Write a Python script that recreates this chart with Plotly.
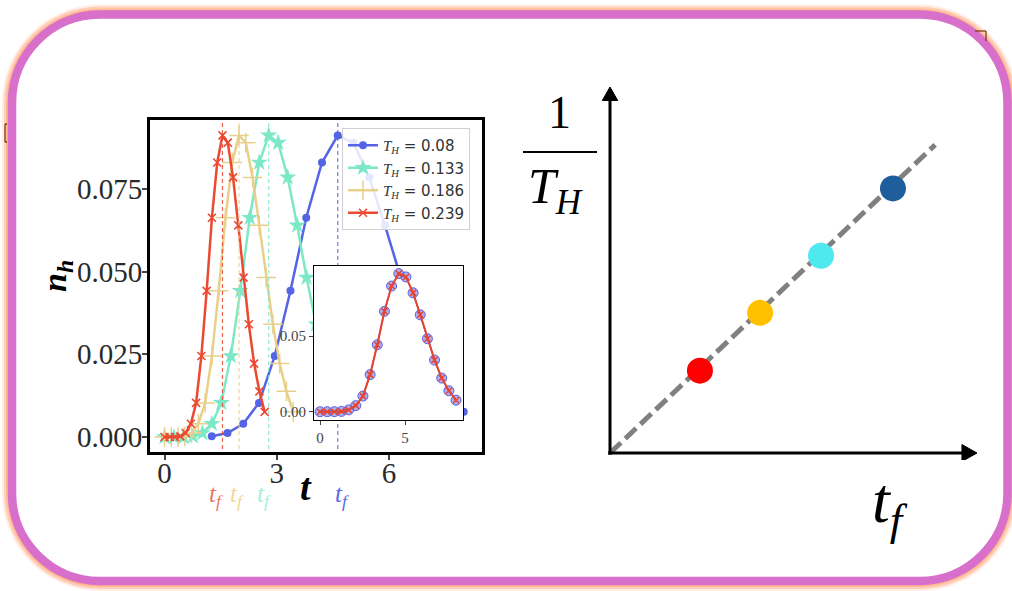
import plotly.graph_objects as go

W, H = 1012, 591

# ---------------- data : left panel ----------------
T_H = [0.08, 0.133, 0.186, 0.239]
series_colors = ["#5564e6", "#7de8c8", "#e8d08c", "#ec4832"]
tf_label_colors = ["#5868e6", "#a6eedb", "#efd796", "#ea7467"]

# n_h shape (identical for all T_H once time is rescaled)
n_h = [0.0, 0.0, 0.0, 0.0002, 0.0012, 0.0040, 0.0103, 0.0245, 0.0442, 0.0663,
       0.0830, 0.0912, 0.0890, 0.0785, 0.0640, 0.0482, 0.0341, 0.0222, 0.0138, 0.0076]
t_rescaled = [0.000, 0.421, 0.842, 1.263, 1.684, 2.105, 2.526, 2.947, 3.368, 3.789,
              4.211, 4.632, 5.053, 5.474, 5.895, 6.316, 6.737, 7.158, 7.579, 8.000]

t_blue = [1.263, 1.684, 2.105, 2.526, 2.947, 3.368, 3.789, 4.211, 4.632, 5.053,
          5.474, 5.895, 6.316, 6.737, 7.158, 7.579, 8.000]
n_blue = [0.0002, 0.0012, 0.0040, 0.0103, 0.0245, 0.0442, 0.0663, 0.0830, 0.0912,
          0.0890, 0.0785, 0.0640, 0.0482, 0.0341, 0.0222, 0.0138, 0.0076]
t_cyan = [0.000, 0.253, 0.507, 0.760, 1.013, 1.266, 1.519, 1.773, 2.026, 2.279,
          2.533, 2.786, 3.039, 3.293, 3.546, 3.799, 4.052, 4.306, 4.559, 4.812]
t_yellow = [0.000, 0.181, 0.362, 0.543, 0.724, 0.905, 1.086, 1.268, 1.449, 1.630,
            1.811, 1.992, 2.173, 2.354, 2.535, 2.717, 2.898, 3.079, 3.260, 3.441]
t_red = [0.000, 0.141, 0.282, 0.423, 0.564, 0.705, 0.845, 0.986, 1.127, 1.268,
         1.409, 1.550, 1.691, 1.832, 1.973, 2.114, 2.255, 2.396, 2.537, 2.678]
t_f = [4.632, 2.786, 1.992, 1.550]

main_xticks = [0, 3, 6]
main_yticks = [0.0, 0.025, 0.05, 0.075]
main_yticktext = ["0.000", "0.025", "0.050", "0.075"]
inset_xticks = [0, 5]
inset_yticks = [0.0, 0.05]
inset_yticktext = ["0.00", "0.05"]

# ---------------- data : right panel (schematic) ----------------
tf_schematic = [2.45, 4.09, 5.75, 7.71]
invTH_schematic = [2.25, 3.83, 5.39, 7.23]
dot_colors = ["#ff0000", "#ffc000", "#4ee9ef", "#1f5e9c"]
fit_x = [0.0, 8.86]
fit_y = [0.0, 8.42]

SERIF = "Liberation Serif"


def dx(p):
    return p / W


def dy(p):
    return 1 - p / H


fig = go.Figure()

# dummy trace so the full-frame pixel axis exists
fig.add_trace(go.Scatter(x=[None], y=[None], xaxis="x", yaxis="y",
                         showlegend=False, hoverinfo="skip"))

# ---- main curves ----
legend_names = [
    '<span style="font-family:Liberation Serif"><i>T</i><sub><i>H</i></sub></span> = %s' % v
    for v in ["0.08", "0.133", "0.186", "0.239"]
]
times = [t_blue, t_cyan, t_yellow, t_red]
values = [n_blue, n_h, n_h, n_h]
markers = [
    dict(symbol="circle", size=8, color=series_colors[0]),
    dict(symbol="star", size=13, color=series_colors[1]),
    dict(symbol="cross-thin", size=14, color=series_colors[2],
         line=dict(color=series_colors[2], width=1.5)),
    dict(symbol="x-thin", size=8, color=series_colors[3],
         line=dict(color=series_colors[3], width=1.6)),
]
for i in range(4):
    fig.add_trace(go.Scatter(
        x=times[i], y=values[i], mode="lines+markers", name=legend_names[i],
        line=dict(color=series_colors[i], width=2.5),
        marker=markers[i], xaxis="x2", yaxis="y2"))

# vertical dashed lines at t_f
for i in range(4):
    fig.add_trace(go.Scatter(
        x=[t_f[i], t_f[i]], y=[-0.01, 0.11], mode="lines", showlegend=False,
        line=dict(color=series_colors[i], width=1.2, dash="4px,3px"),
        opacity=0.85, xaxis="x2", yaxis="y2"))

# ---- inset ----
fig.add_trace(go.Scatter(
    x=t_rescaled, y=n_h, mode="lines+markers", showlegend=False,
    line=dict(color=series_colors[0], width=1.5),
    marker=dict(symbol="circle", size=10, color="rgba(110,110,225,0.55)",
                line=dict(color="#5a62e0", width=1)),
    xaxis="x4", yaxis="y4"))
fig.add_trace(go.Scatter(
    x=t_rescaled, y=n_h, mode="lines+markers", showlegend=False,
    line=dict(color="#e8432d", width=2),
    marker=dict(symbol="x-thin", size=6, color="#e8432d",
                line=dict(color="#e8432d", width=1.5)),
    xaxis="x4", yaxis="y4"))

# ---- right schematic ----
fig.add_trace(go.Scatter(
    x=fit_x, y=fit_y, mode="lines", showlegend=False,
    line=dict(color="#808080", width=5, dash="15px,6px"),
    xaxis="x3", yaxis="y3"))
fig.add_trace(go.Scatter(
    x=tf_schematic, y=invTH_schematic, mode="markers", showlegend=False,
    marker=dict(size=26, color=dot_colors, line=dict(width=0)),
    xaxis="x3", yaxis="y3"))


def rrect(L, T, R, B, r):
    k = 0.5523 * r
    return (f"M {L + r},{T} L {R - r},{T} C {R - r + k},{T} {R},{T + r - k} {R},{T + r} "
            f"L {R},{B - r} C {R},{B - r + k} {R - r + k},{B} {R - r},{B} "
            f"L {L + r},{B} C {L + r - k},{B} {L},{B - r + k} {L},{B - r} "
            f"L {L},{T + r} C {L},{T + r - k} {L + r - k},{T} {L + r},{T} Z")


shapes = []
# glow
for off, wdt, col in [(8, 4, "rgba(255,178,138,0.22)"), (6, 4, "rgba(255,178,138,0.5)"),
                      (4, 4, "rgba(255,178,138,0.8)"), (2.5, 4, "rgba(255,178,138,1)")]:
    shapes.append(dict(type="path", path=rrect(12 - off, 14.5 - off, 1007.5 + off, 581 + off, 88 + off),
                       xref="x", yref="y", line=dict(color=col, width=wdt), layer="below"))
shapes.append(dict(type="path", path=rrect(12, 14.5, 1007.5, 581, 88),
                   xref="x", yref="y", line=dict(color="#d76fcb", width=8.5), layer="below"))
# small brown artefacts
for (x0, y0, x1, y1) in [(975, 31, 986, 31), (986, 31, 986, 41),
                         (7, 124, 5, 124), (5, 124, 5, 142), (5, 142, 7, 142)]:
    shapes.append(dict(type="line", x0=x0, y0=y0, x1=x1, y1=y1, xref="x", yref="y",
                       line=dict(color="#7b3b1c", width=1.3), layer="below"))
# fraction bar
shapes.append(dict(type="line", x0=523, y0=152, x1=597, y1=152, xref="x", yref="y",
                   line=dict(color="black", width=2)))
# right axes arrows
shapes += [
    dict(type="line", x0=0, y0=-0.05, x1=0, y1=9.7, xref="x3", yref="y3",
         line=dict(color="black", width=3)),
    dict(type="line", x0=-0.05, y0=0, x1=9.7, y1=0, xref="x3", yref="y3",
         line=dict(color="black", width=3)),
    dict(type="path", path="M -0.21,9.63 L 0,10 L 0.21,9.63 Z", xref="x3", yref="y3",
         fillcolor="black", line=dict(color="black", width=1)),
    dict(type="path", path="M 9.59,-0.23 L 10,0 L 9.59,0.23 Z", xref="x3", yref="y3",
         fillcolor="black", line=dict(color="black", width=1)),
]

annotations = [
    dict(text="<b><i>t</i></b>", x=306, y=487, xref="x", yref="y", showarrow=False,
         font=dict(family=SERIF, size=38, color="black")),
    dict(text="<b><i>n</i></b><sub><b><i>h</i></b></sub>", x=57, y=276, xref="x", yref="y",
         showarrow=False, textangle=-90, font=dict(family=SERIF, size=34, color="black")),
    dict(text="1", x=559, y=112, xref="x", yref="y", showarrow=False,
         font=dict(family=SERIF, size=46, color="black")),
    dict(text="<i>T</i><sub><i>H</i></sub>", x=555, y=190, xref="x", yref="y", showarrow=False,
         font=dict(family=SERIF, size=50, color="black")),
    dict(text="<i>t</i><sub><i>f</i></sub>", x=890, y=505, xref="x", yref="y", showarrow=False,
         font=dict(family=SERIF, size=64, color="black")),
]
for xpos, col in zip([342, 264, 237, 216], tf_label_colors):
    annotations.append(dict(text="<i>t</i><sub><i>f</i></sub>", x=xpos, y=495, xref="x", yref="y",
                            showarrow=False, font=dict(family=SERIF, size=25, color=col)))

hidden = dict(visible=False, showgrid=False, zeroline=False)

fig.update_layout(
    width=W, height=H, margin=dict(l=0, r=0, t=0, b=0),
    paper_bgcolor="white", plot_bgcolor="white",
    showlegend=True,
    legend=dict(x=dx(342), y=dy(128), xanchor="left", yanchor="top",
                bgcolor="rgba(255,255,255,0.85)", bordercolor="#d0d0d0", borderwidth=1,
                font=dict(family="DejaVu Sans", size=15, color="#333333"),
                tracegroupgap=0, itemwidth=30),
    xaxis=dict(domain=[0, 1], range=[0, W], anchor="y", **hidden),
    yaxis=dict(domain=[0, 1], range=[H, 0], anchor="x", **hidden),
    xaxis2=dict(domain=[dx(150), dx(482)], range=[-0.388, 8.489], anchor="y2",
                showline=True, linecolor="black", linewidth=3, mirror=True,
                showgrid=False, zeroline=False, ticks="outside", ticklen=5, tickwidth=1.5,
                ticklabelstandoff=-12,
                tickvals=main_xticks, tickfont=dict(family=SERIF, size=29, color="#2a2a2a")),
    yaxis2=dict(domain=[dy(452), dy(120)], range=[-0.00454, 0.09586], anchor="x2",
                showline=True, linecolor="black", linewidth=3, mirror=True,
                showgrid=False, zeroline=False, ticks="outside", ticklen=5, tickwidth=1.5,
                ticklabelstandoff=-6,
                tickvals=main_yticks, ticktext=main_yticktext,
                tickfont=dict(family=SERIF, size=29, color="#2a2a2a")),
    xaxis3=dict(domain=[dx(590), dx(990)], range=[-0.545, 10.354], anchor="y3", **hidden),
    yaxis3=dict(domain=[dy(460), dy(80)], range=[-0.191, 10.191], anchor="x3", **hidden),
    xaxis4=dict(domain=[dx(314), dx(463)], range=[-0.353, 8.41], anchor="y4",
                showline=True, linecolor="black", linewidth=1.2, mirror=True,
                showgrid=False, zeroline=False, ticks="outside", ticklen=4, tickwidth=1,
                tickvals=inset_xticks, tickfont=dict(family=SERIF, size=15, color="#444444")),
    yaxis4=dict(domain=[dy(420), dy(266)], range=[-0.00548, 0.09623], anchor="x4",
                showline=True, linecolor="black", linewidth=1.2, mirror=True,
                showgrid=False, zeroline=False, ticks="outside", ticklen=4, tickwidth=1,
                tickvals=inset_yticks, ticktext=inset_yticktext,
                tickfont=dict(family=SERIF, size=15, color="#444444")),
    shapes=shapes,
    annotations=annotations,
)

fig.write_html("out.html")
